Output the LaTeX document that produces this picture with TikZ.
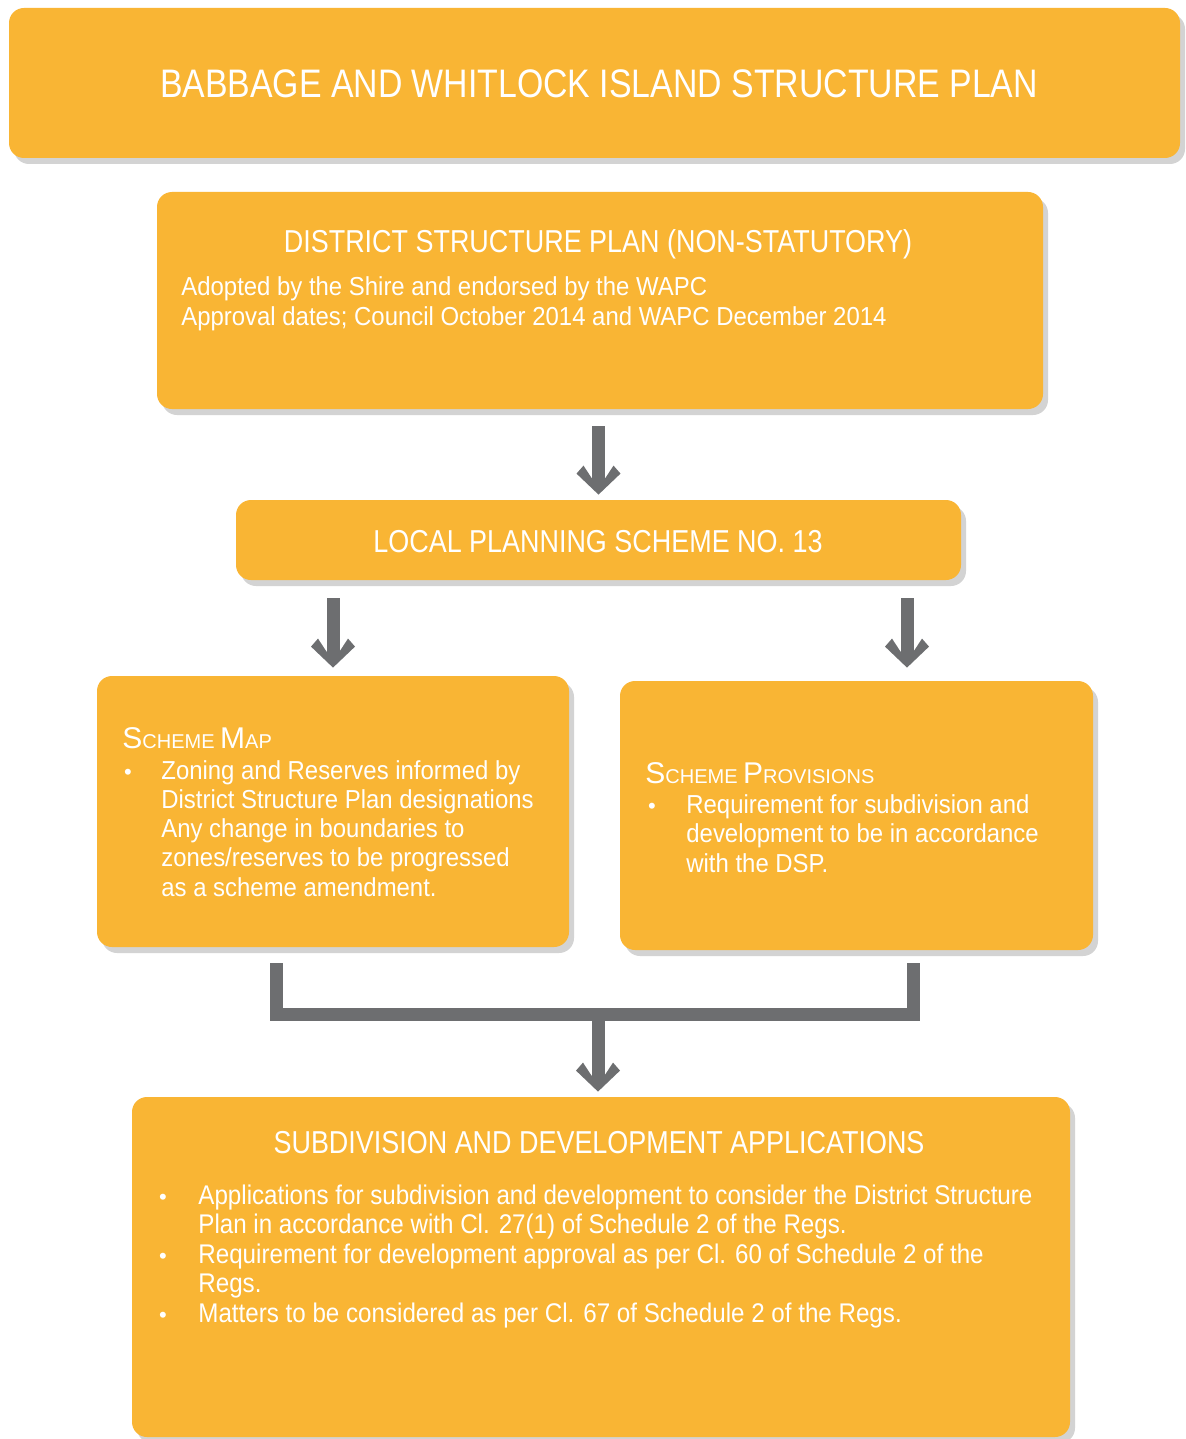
\documentclass[tikz,border=0pt]{standalone}
\usepackage{fontspec}
\setmainfont{Liberation Sans}
\newfontfamily\headfont[FakeStretch=0.85]{Liberation Sans}
\newfontfamily\bodyfont[FakeStretch=0.92]{Liberation Sans}
\newfontfamily\condfont[FakeStretch=0.895]{Liberation Sans}
\usetikzlibrary{fit,shadows,calc,arrows.meta}

\definecolor{boxorange}{HTML}{F9B534}
\definecolor{flowgray}{HTML}{6D6E70}
\definecolor{shadegray}{HTML}{D3D3D3}

% small-caps heading: large initial, smaller remaining capitals
\newcommand\capsmall[2]{{\fontsize{15}{18}\selectfont #1}{\fontsize{10}{12}\selectfont #2}}

% chevron-shaped arrow head for the thick grey flow lines
\pgfdeclarearrow{
  name = Chev,
  setup code = {
    \pgfarrowssettipend{0pt}
    \pgfarrowssetbackend{-14.5pt}
    \pgfarrowssetlineend{-7pt}
    \pgfarrowshullpoint{0pt}{0pt}
    \pgfarrowsupperhullpoint{-14.5pt}{11pt}
  },
  drawing code = {
    \pgfpathmoveto{\pgfpointorigin}
    \pgfpathlineto{\pgfpoint{-10.5pt}{11pt}}
    \pgfpathlineto{\pgfpoint{-14.5pt}{7.5pt}}
    \pgfpathlineto{\pgfpoint{-8pt}{3.25pt}}
    \pgfpathlineto{\pgfpoint{-8pt}{-3.25pt}}
    \pgfpathlineto{\pgfpoint{-14.5pt}{-7.5pt}}
    \pgfpathlineto{\pgfpoint{-10.5pt}{-11pt}}
    \pgfpathclose
    \pgfusepathqfill
  }
}

\tikzset{
  panel/.style={fill=boxorange, draw=none, rounded corners=7.5pt, inner sep=0pt,
    drop shadow={shadow xshift=2.5pt, shadow yshift=-3pt, fill=shadegray, opacity=1}},
  headtext/.style={text=white, inner sep=0pt, anchor=base},
  bodytext/.style={text=white, inner sep=0pt, anchor=base west},
  dot/.style={text=white, inner sep=0pt, anchor=base, font=\fontsize{11}{12}\selectfont},
  flow/.style={draw=flowgray, line width=6.5pt, -{Chev}},
  flowbar/.style={draw=flowgray, line width=6.5pt, line join=miter},
}

\begin{document}
\begin{tikzpicture}[x=0.5pt, y=-0.5pt]
\useasboundingbox (0,0) rectangle (1185,1439);
\fill[white] (0,0) rectangle (1185,1439);

% boxes
\node[panel, fit={(9,8) (1180,158)}] (plan) {};
\node[panel, fit={(157,192) (1043,409)}] (dsp) {};
\node[panel, fit={(236,500) (961,580)}] (lps) {};
\node[panel, fit={(97,676) (569,947)}] (smap) {};
\node[panel, fit={(620,681) (1093,950)}] (sprov) {};
\node[panel, fit={(132,1097) (1070,1437)}] (sda) {};

% headings
\node[headtext, font=\headfont\fontsize{19.9}{23}\selectfont] (plan-t) at (599,98)
  {BABBAGE AND WHITLOCK ISLAND STRUCTURE PLAN};
\node[headtext, font=\headfont\fontsize{15.85}{19}\selectfont] (dsp-t) at (598,253)
  {DISTRICT STRUCTURE PLAN (NON-STATUTORY)};
\node[headtext, font=\headfont\fontsize{15.85}{19}\selectfont] (lps-t) at (598,552)
  {LOCAL PLANNING SCHEME NO. 13};
\node[headtext, font=\headfont\fontsize{15.85}{19}\selectfont] (sda-t) at (599,1153)
  {SUBDIVISION AND DEVELOPMENT APPLICATIONS};

% district structure plan text
\node[bodytext, font=\bodyfont\fontsize{13}{15}\selectfont] (dsp-b) at (181,295)
  {\begin{tabular}[t]{@{}l@{}}
   Adopted by the Shire and endorsed by the WAPC\\
   Approval dates; Council October 2014 and WAPC December 2014
   \end{tabular}};

% scheme map
\node[bodytext] (smap-t) at (122,748) {\capsmall{S}{CHEME} \capsmall{M}{AP}};
\node[dot] (smap-d) at (128,779) {•};
\node[bodytext, font=\bodyfont\fontsize{13}{14.65}\selectfont] (smap-b) at (161,779)
  {\begin{tabular}[t]{@{}l@{}}
   Zoning and Reserves informed by\\
   District Structure Plan designations\\
   Any change in boundaries to\\
   zones/reserves to be progressed\\
   as a scheme amendment.
   \end{tabular}};

% scheme provisions
\node[bodytext] (sprov-t) at (645,783) {\capsmall{S}{CHEME} \capsmall{P}{ROVISIONS}};
\node[dot] (sprov-d) at (652,813) {•};
\node[bodytext, font=\bodyfont\fontsize{13}{14.75}\selectfont] (sprov-b) at (686,813)
  {\begin{tabular}[t]{@{}l@{}}
   Requirement for subdivision and\\
   development to be in accordance\\
   with the DSP.
   \end{tabular}};

% subdivision and development applications
\node[dot] (sda-d1) at (163,1204) {•};
\node[dot] (sda-d2) at (163,1263) {•};
\node[dot] (sda-d3) at (163,1322) {•};
\node[bodytext, font=\condfont\fontsize{13.5}{14.75}\selectfont] (sda-b) at (198,1204)
  {\begin{tabular}[t]{@{}l@{}}
   Applications for subdivision and development to consider the District Structure\\
   Plan in accordance with Cl. 27(1) of Schedule 2 of the Regs.\\
   Requirement for development approval as per Cl. 60 of Schedule 2 of the\\
   Regs.\\
   Matters to be considered as per Cl. 67 of Schedule 2 of the Regs.
   \end{tabular}};

% flow arrows
\draw[flow] ($(dsp.south -| lps.north)+(0,17)$) -- ($(lps.north)+(0,-5)$);
\draw[flow] ($(lps.south -| smap.north)+(0,18)$) -- ($(smap.north)+(0,-8)$);
\draw[flow] ($(sprov.north |- lps.south)+(50.5,18)$) -- ($(sprov.north)+(50.5,-13)$);

% merging bracket into the applications box
\coordinate (merge) at (598,1014.5);
\draw[flowbar] ($(smap.south)+(-56.5,16)$) |- (merge) -| ($(sprov.south)+(57,13)$);
\draw[flow] ($(merge)+(0,-6)$) -- ($(merge |- sda.north)+(0,-5)$);
\end{tikzpicture}
\end{document}
